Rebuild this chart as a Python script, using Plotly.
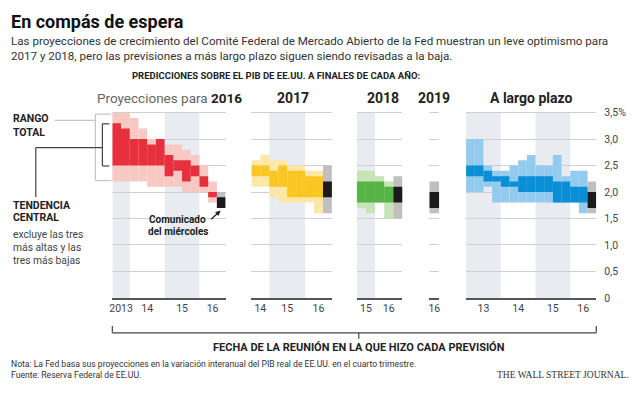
import plotly.graph_objects as go

W, H = 640, 398

# ---------------- data ----------------
# meeting dates (year-month) of each projection, per panel
meet_2016 = ["2013-09", "2013-12", "2014-03", "2014-06", "2014-09", "2014-12", "2015-03",
             "2015-06", "2015-09", "2015-12", "2016-03", "2016-06", "2016-09"]
meet_2017 = ["2014-09", "2014-12", "2015-03", "2015-06", "2015-09", "2015-12", "2016-03",
             "2016-06", "2016-09"]
meet_2018 = ["2015-09", "2015-12", "2016-03", "2016-06", "2016-09"]
meet_2019 = ["2016-09"]
meet_lr = ["2013-03", "2013-06", "2013-09", "2013-12", "2014-03", "2014-06", "2014-09",
           "2014-12", "2015-03", "2015-06", "2015-09", "2015-12", "2016-03", "2016-06", "2016-09"]

# full range (low / high) and central tendency (low / high), % GDP growth
rng_lo_2016 = [2.2, 2.2, 2.2, 2.2, 2.1, 2.1, 2.1, 2.1, 2.0, 2.0, 2.0, 1.8, 1.7]
rng_hi_2016 = [3.5, 3.5, 3.4, 3.2, 3.0, 3.0, 2.9, 2.9, 2.8, 2.7, 2.5, 2.2, 2.0]
ct_lo_2016 = [2.5, 2.5, 2.5, 2.5, 2.5, 2.5, 2.3, 2.4, 2.2, 2.3, 2.1, 1.9, 1.7]
ct_hi_2016 = [3.3, 3.2, 3.0, 3.0, 2.9, 3.0, 2.7, 2.6, 2.6, 2.5, 2.3, 2.0, 1.9]

rng_lo_2017 = [2.1, 2.1, 1.9, 1.8, 1.8, 1.8, 1.8, 1.6, 1.6]
rng_hi_2017 = [2.6, 2.7, 2.6, 2.6, 2.5, 2.5, 2.4, 2.4, 2.5]
ct_lo_2017 = [2.3, 2.3, 2.1, 2.1, 1.9, 1.9, 1.9, 1.9, 1.9]
ct_hi_2017 = [2.5, 2.5, 2.4, 2.5, 2.4, 2.4, 2.3, 2.3, 2.2]

rng_lo_2018 = [1.7, 1.6, 1.8, 1.5, 1.5]
rng_hi_2018 = [2.4, 2.4, 2.3, 2.2, 2.3]
ct_lo_2018 = [1.8, 1.8, 1.8, 1.8, 1.8]
ct_hi_2018 = [2.2, 2.2, 2.2, 2.1, 2.1]

rng_lo_2019 = [1.6]
rng_hi_2019 = [2.2]
ct_lo_2019 = [1.7]
ct_hi_2019 = [2.0]

rng_lo_lr = [2.0, 2.0, 2.1, 1.8, 1.8, 1.8, 1.8, 1.8, 1.8, 1.8, 1.8, 1.8, 1.8, 1.6, 1.6]
rng_hi_lr = [3.0, 3.0, 2.5, 2.4, 2.4, 2.5, 2.6, 2.7, 2.5, 2.5, 2.7, 2.3, 2.4, 2.4, 2.2]
ct_lo_lr = [2.3, 2.3, 2.2, 2.2, 2.1, 2.1, 2.0, 2.0, 2.0, 2.0, 1.8, 1.8, 1.8, 1.8, 1.7]
ct_hi_lr = [2.5, 2.5, 2.4, 2.3, 2.3, 2.2, 2.3, 2.3, 2.3, 2.3, 2.2, 2.2, 2.1, 2.1, 2.0]

y_ticks = [0, 0.5, 1.0, 1.5, 2.0, 2.5, 3.0, 3.5]
y_ticktext = ["0", "0,5", "1,0", "1,5", "2,0", "2,5", "3,0", "3,5%"]

# ---------------- styling ----------------
NARROW = "Roboto, Liberation Sans, sans-serif"
SERIF = "Liberation Serif, DejaVu Serif, serif"

panels = [
    dict(meet=meet_2016, lo=rng_lo_2016, hi=rng_hi_2016, clo=ct_lo_2016, chi=ct_hi_2016,
         light="#f8c8c2", dark="#e6303d", px=(110, 224), first_label="2013"),
    dict(meet=meet_2017, lo=rng_lo_2017, hi=rng_hi_2017, clo=ct_lo_2017, chi=ct_hi_2017,
         light="#fde7a6", dark="#f9c623", px=(250, 331), first_label=None),
    dict(meet=meet_2018, lo=rng_lo_2018, hi=rng_hi_2018, clo=ct_lo_2018, chi=ct_hi_2018,
         light="#c6e4b6", dark="#57b447", px=(356, 402), first_label=None),
    dict(meet=meet_2019, lo=rng_lo_2019, hi=rng_hi_2019, clo=ct_lo_2019, chi=ct_hi_2019,
         light="#c6e4b6", dark="#57b447", px=(429, 439), first_label=None),
    dict(meet=meet_lr, lo=rng_lo_lr, hi=rng_hi_lr, clo=ct_lo_lr, chi=ct_hi_lr,
         light="#93cbee", dark="#0a8ed6", px=(466, 597), first_label=None),
]

Y_TOP_VAL = 3.52
Y_PX_0 = 302.0
Y_PX_35 = 111.0
scale = (Y_PX_0 - Y_PX_35) / 3.5
y_top_px = Y_PX_0 - Y_TOP_VAL * scale


def fx(x):
    return x / W


def fy(y):
    return 1 - y / H


fig = go.Figure()
shapes = []
layout_axes = {}

for i, p in enumerate(panels):
    k = "" if i == 0 else str(i + 1)
    n = len(p["meet"])
    xs = list(range(n))
    light_cols = [p["light"]] * (n - 1) + ["#bfbfbf"]
    dark_cols = [p["dark"]] * (n - 1) + ["#1b1b1b"]
    fig.add_trace(go.Bar(x=xs, y=[h - l for h, l in zip(p["hi"], p["lo"])], base=p["lo"],
                         width=1, marker=dict(color=light_cols, line=dict(width=0)),
                         xaxis="x" + k, yaxis="y" + k, showlegend=False, hoverinfo="skip"))
    fig.add_trace(go.Bar(x=xs, y=[h - l for h, l in zip(p["chi"], p["clo"])], base=p["clo"],
                         width=1, marker=dict(color=dark_cols, line=dict(width=0)),
                         xaxis="x" + k, yaxis="y" + k, showlegend=False, hoverinfo="skip"))

    years = [m[:4] for m in p["meet"]]
    uniq = []
    for yv in years:
        if yv not in uniq:
            uniq.append(yv)
    tickvals, ticktext = [], []
    for j, yv in enumerate(uniq):
        idx = [t for t, v in enumerate(years) if v == yv]
        tickvals.append(sum(idx) / len(idx))
        if j == 0 and p["first_label"]:
            ticktext.append(p["first_label"])
        else:
            ticktext.append(yv[2:])
        if int(yv) % 2 == 1:
            shapes.append(dict(type="rect", xref="x" + k, yref="y" + k,
                               x0=idx[0] - 0.5, x1=idx[-1] + 0.5, y0=0, y1=3.5,
                               fillcolor="#e8ebf0", line=dict(width=0), layer="below"))

    layout_axes["xaxis" + k] = dict(
        domain=[fx(p["px"][0]), fx(p["px"][1])], range=[-0.5, n - 0.5], anchor="y" + k,
        tickvals=tickvals, ticktext=ticktext, showgrid=False, zeroline=False,
        showline=True, linecolor="#555555", linewidth=2, ticks="",
        tickfont=dict(family=NARROW, size=10.5, color="#444444"), fixedrange=True)
    ya = dict(domain=[fy(Y_PX_0), fy(y_top_px)], range=[0, Y_TOP_VAL], anchor="x" + k,
              tickvals=y_ticks, showgrid=True, gridcolor="#d0d0d0", gridwidth=1,
              zeroline=False, showline=False, fixedrange=True, showticklabels=False)
    if i == len(panels) - 1:
        ya.update(showticklabels=True, side="right", ticktext=y_ticktext,
                  ticks="outside", ticklen=5, tickcolor="rgba(0,0,0,0)",
                  tickfont=dict(family=NARROW, size=10.5, color="#444444"))
    layout_axes["yaxis" + k] = ya


def line(x0, y0, x1, y1, color, w=1.2):
    shapes.append(dict(type="line", xref="paper", yref="paper", x0=fx(x0), y0=fy(y0),
                       x1=fx(x1), y1=fy(y1), line=dict(color=color, width=w)))


# legend brackets on the left
LG = "#c4c4c4"
DG = "#444444"
line(52, 119, 93, 119, LG)
line(93, 112.5, 93, 181, LG)
line(93, 112.5, 109, 112.5, LG)
line(93, 181, 109, 181, LG)
line(100, 122.5, 100, 166, DG)
line(100, 122.5, 107, 122.5, DG)
line(100, 166, 107, 166, DG)
line(33, 147, 100, 147, DG)
line(33, 147, 33, 198, DG)

# bottom bracket
line(110, 331, 110, 338, DG)
line(597, 331, 597, 338, DG)
line(110, 338, 597, 338, DG)
line(358, 338, 358, 344, DG)

annotations = []


def text(x, y, s, size, color="#222222", anchor="left", family=NARROW, yanchor="middle"):
    annotations.append(dict(x=fx(x), y=fy(y), xref="paper", yref="paper", text=s,
                            showarrow=False, xanchor=anchor, yanchor=yanchor,
                            font=dict(family=family, size=size, color=color)))


text(6, 17, "<b>En compás de espera</b>", 18, "#111111")
text(6, 37, "Las proyecciones de crecimiento del Comité Federal de Mercado Abierto de la Fed "
            "muestran un leve optimismo para", 11.6, "#333333")
text(6, 53, "2017 y 2018, pero las previsiones a más largo plazo siguen siendo revisadas a la baja.",
     11.6, "#333333")
text(275, 73, "<b>PREDICCIONES SOBRE EL PIB DE EE.UU. A FINALES DE CADA AÑO:</b>", 9.5,
     "#222222", anchor="center")
text(93, 96, "<span style='color:#666666'>Proyecciones para </span><b>2016</b>", 13.5, "#222222")
text(292, 96, "<b>2017</b>", 14, anchor="center")
text(382, 96, "<b>2018</b>", 14, anchor="center")
text(434, 96, "<b>2019</b>", 14, anchor="center")
text(532, 96, "<b>A largo plazo</b>", 14, anchor="center")

text(8, 117, "<b>RANGO</b>", 10.5, "#222222")
text(8, 131, "<b>TOTAL</b>", 10.5, "#222222")
text(8, 207, "<b>TENDENCIA</b>", 10.5, "#222222")
text(8, 219, "<b>CENTRAL</b>", 10.5, "#222222")
text(8, 237, "excluye las tres", 10.3, "#444444")
text(8, 250, "más altas y las", 10.3, "#444444")
text(8, 263, "tres más bajas", 10.3, "#444444")

text(176, 221, "<b>Comunicado</b>", 10, "#222222", anchor="center")
text(176, 234, "<b>del miércoles</b>", 10, "#222222", anchor="center")
annotations.append(dict(x=fx(219), y=fy(212), xref="paper", yref="paper", text="",
                        showarrow=True, ax=-11, ay=10, arrowhead=2, arrowsize=0.8,
                        arrowwidth=1.3, arrowcolor="#222222"))

text(358, 353, "<b>FECHA DE LA REUNIÓN EN LA QUE HIZO CADA PREVISIÓN</b>", 11, "#222222",
     anchor="center")
text(6, 370, "Nota: La Fed basa sus proyecciones en la variación interanual del PIB real de "
             "EE.UU. en el cuarto trimestre.", 8.6, "#333333")
text(6, 382, "Fuente: Reserva Federal de EE.UU.", 8.6, "#333333")
text(632, 382, "THE WALL STREET JOURNAL.", 9.5, "#333333", anchor="right", family=SERIF)

fig.update_layout(
    width=W, height=H, margin=dict(l=0, r=0, t=0, b=0),
    paper_bgcolor="white", plot_bgcolor="rgba(0,0,0,0)",
    barmode="overlay", showlegend=False,
    shapes=shapes, annotations=annotations, **layout_axes)

fig.write_html("out.html", config={"displayModeBar": False},
               post_script="document.body.style.margin='0';")
